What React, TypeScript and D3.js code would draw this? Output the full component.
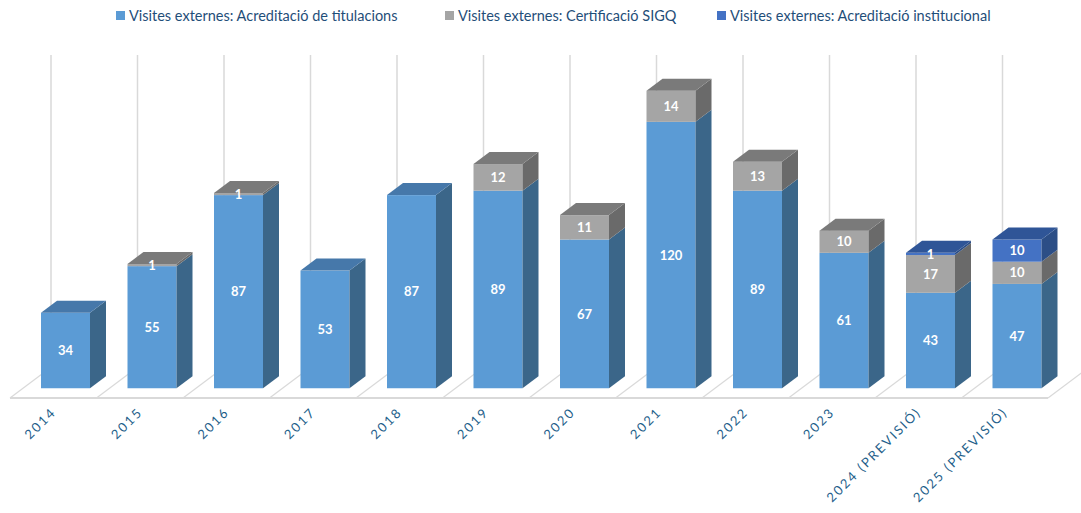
import React from "react";
import * as d3 from "d3";

const categories = ["2014", "2015", "2016", "2017", "2018", "2019", "2020", "2021", "2022", "2023", "2024 (PREVISIÓ)", "2025 (PREVISIÓ)"];
const titulacions = [34, 55, 87, 53, 87, 89, 67, 120, 89, 61, 43, 47];
const sigq = [0, 1, 1, 0, 0, 12, 11, 14, 13, 10, 17, 10];
const institucional = [0, 0, 0, 0, 0, 0, 0, 0, 0, 0, 1, 10];
const seriesNames = [
  "Visites externes: Acreditació de titulacions",
  "Visites externes: Certificació SIGQ",
  "Visites externes: Acreditació institucional",
];

const W = 1081;
const H = 513;
const FONT = "Lato, 'Open Sans', sans-serif";

const palettes = [
  { front: "#5B9BD5", top: "#4678AA", side: "#3B6689" },
  { front: "#A5A5A5", top: "#7A7A7A", side: "#6A6A6A" },
  { front: "#4472C4", top: "#2F5597", side: "#2C4E86" },
];

export default function App() {
  const floorFrontY = 398;
  const slope = 0.75;
  const floorDepth = 41;
  const barOffset = 13; // depth offset of bar front from floor front
  const barDepth = 16;
  const x = d3.scaleBand<string>().domain(categories).range([10, 10 + 12 * 86.5]).padding(0);
  const bw = x.bandwidth();
  const barW = 49;
  const barInset = 18;
  const baseY = floorFrontY - barOffset * slope;
  const y = d3.scaleLinear().domain([0, 140]).range([baseY, baseY - 140 * 2.22]);
  const ddx = barDepth;
  const ddy = -barDepth * slope;
  const backY = floorFrontY - floorDepth * slope;
  const [x0, x1] = x.range();

  const stackData = categories.map((c, i) => ({
    cat: c,
    vals: [titulacions[i], sigq[i], institucional[i]],
  }));

  const gridColor = "#D9D9D9";

  return (
    <svg width={W} height={H} style={{ position: "absolute", left: 0, top: 0, background: "#fff" }}>
      {/* back wall vertical gridlines */}
      {d3.range(categories.length + 1).map((i) => {
        const gx = x0 + i * bw + floorDepth;
        return <line key={"g" + i} x1={gx} x2={gx} y1={55} y2={backY} stroke={gridColor} strokeWidth={1.5} />;
      })}
      {/* floor separators */}
      {d3.range(categories.length + 1).map((i) => {
        const fx = x0 + i * bw;
        return (
          <line key={"f" + i} x1={fx} y1={floorFrontY} x2={fx + floorDepth} y2={backY} stroke={gridColor} strokeWidth={1.2} />
        );
      })}
      <line x1={x0} x2={x1} y1={floorFrontY} y2={floorFrontY} stroke={gridColor} strokeWidth={2} />

      {/* bars */}
      {stackData.map((d) => {
        const bx = (x(d.cat) as number) + barOffset + barInset;
        let cum = 0;
        const segs = d.vals.map((v, s) => {
          const y0 = cum;
          cum += v;
          return { s, v, y0, y1: cum };
        }).filter((sg) => sg.v > 0);
        const topSeg = segs[segs.length - 1];
        return (
          <g key={d.cat}>
            {segs.map((sg) => {
              const p = palettes[sg.s];
              const yb = y(sg.y0);
              const yt = y(sg.y1);
              return (
                <g key={sg.s}>
                  <rect x={bx} y={yt} width={barW} height={yb - yt} fill={p.front} />
                  <path
                    d={`M${bx + barW},${yb} L${bx + barW + ddx},${yb + ddy} L${bx + barW + ddx},${yt + ddy} L${bx + barW},${yt} Z`}
                    fill={p.side}
                  />
                </g>
              );
            })}
            {topSeg && (
              <path
                d={`M${bx},${y(topSeg.y1)} L${bx + ddx},${y(topSeg.y1) + ddy} L${bx + barW + ddx},${y(topSeg.y1) + ddy} L${bx + barW},${y(topSeg.y1)} Z`}
                fill={palettes[topSeg.s].top}
              />
            )}
            {segs.map((sg) => (
              <text
                key={"t" + sg.s}
                x={bx + barW / 2}
                y={(y(sg.y0) + y(sg.y1)) / 2}
                dy="0.36em"
                textAnchor="middle"
                fill="#fff"
                fontFamily={FONT}
                fontWeight="bold"
                fontSize={13}
              >
                {sg.v}
              </text>
            ))}
          </g>
        );
      })}

      {/* category labels */}
      {categories.map((c) => {
        const lx = (x(c) as number) + 47;
        const ly = 413;
        return (
          <text
            key={"c" + c}
            transform={`translate(${lx},${ly}) rotate(-45)`}
            textAnchor="end"
            fill="#1F5F8B"
            fontFamily={FONT}
            fontSize={13}
            letterSpacing={2}
          >
            {c}
          </text>
        );
      })}

      {/* legend */}
      {[116, 445, 717].map((lx, i) => (
        <g key={"l" + i}>
          <rect x={lx} y={11} width={9} height={9} fill={palettes[i].front} />
          <text x={lx + 13} y={20.5} fill="#1F4E79" fontFamily={FONT} fontSize={14.5}>
            {seriesNames[i]}
          </text>
        </g>
      ))}
    </svg>
  );
}
